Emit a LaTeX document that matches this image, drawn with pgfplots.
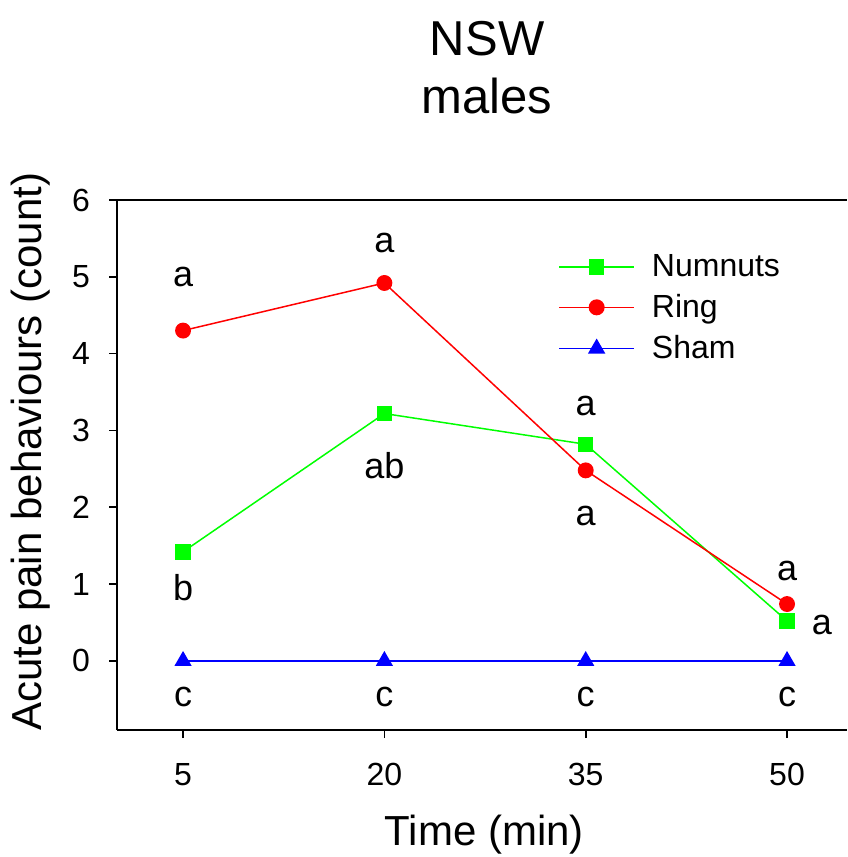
\documentclass[border=0pt]{standalone}
\usepackage{pgfplots}
\pgfplotsset{compat=1.18}
\usepackage{fontspec}
\setmainfont{Liberation Sans}
\definecolor{cg}{RGB}{0,255,0}
\definecolor{cr}{RGB}{255,0,0}
\definecolor{cb}{RGB}{0,0,255}
\begin{document}
\begin{tikzpicture}
\begin{axis}[
  scale only axis,
  width=365pt, height=265pt,
  xmin=0.08, xmax=54.47,
  ymin=-0.9, ymax=6,
  axis x line=box, axis y line=left,
  axis line style={-, line width=0.8pt},
  xtick={5,20,35,50}, ytick={0,1,2,3,4,5,6},
  xtick pos=bottom, ytick pos=left,
  tick align=outside,
  major tick length=4pt,
  tick style={black, line width=0.8pt},
  /pgf/number format/assume math mode=true,
  ticklabel style={font=\fontsize{16}{19}\selectfont},
  xticklabel style={yshift=-9pt},
  yticklabel style={xshift=-6pt},
  clip=false,
  xlabel={Time (min)},
  ylabel={Acute pain behaviours (count)},
  label style={font=\fontsize{21}{25}\selectfont},
  xlabel style={at={(axis description cs:0.503,-0.198)}, anchor=center},
  ylabel style={at={(axis description cs:-0.119,0.525)}, anchor=center, rotate=0},
  legend style={draw=none, fill=none, at={(axis description cs:0.604,0.906)}, anchor=north west,
    font=\fontsize{16}{19}\selectfont, row sep=3.5pt, column sep=6.5pt, inner sep=0pt},
  legend cell align=left,
  legend image code/.code={\draw[mark repeat=2,mark phase=2, line width=0.8pt] plot coordinates {(0pt,0pt) (18.75pt,0pt) (37.5pt,0pt)};},
]
\addplot[cg, line width=0.75pt, mark=square*, mark size=3.5pt] coordinates {(5,1.42) (20,3.22) (35,2.82) (50,0.52)};
\addlegendentry{Numnuts}
\addplot[cr, line width=0.75pt, mark=*, mark size=3.6pt] coordinates {(5,4.3) (20,4.92) (35,2.48) (50,0.74)};
\addlegendentry{Ring}
\addplot[cb, line width=0.75pt, mark=triangle*, mark size=4.2pt] coordinates {(5,0) (20,0) (35,0) (50,0)};
\addlegendentry{Sham}
\begin{scope}[every node/.style={font=\fontsize{18}{21}\selectfont, inner sep=0pt}]
\node at (axis cs:5,5.0) {a};
\node at (axis cs:20,5.44) {a};
\node at (axis cs:5,0.96) {b};
\node at (axis cs:20,2.54) {ab};
\node at (axis cs:35,3.32) {a};
\node at (axis cs:35,1.89) {a};
\node at (axis cs:50,1.17) {a};
\node at (axis cs:52.6,0.47) {a};
\node at (axis cs:5,-0.47) {c};
\node at (axis cs:20,-0.47) {c};
\node at (axis cs:35,-0.47) {c};
\node at (axis cs:50,-0.47) {c};
\end{scope}
\node[align=center, font=\fontsize{24.5}{29}\selectfont] at (axis description cs:0.507,1.249) {NSW\\males};
\coordinate (BL) at (axis description cs:-0.1603,-0.2396);
\coordinate (TR) at (axis description cs:1,1.3774);
\end{axis}
\pgfresetboundingbox
\path[use as bounding box] (BL) rectangle (TR);
\end{tikzpicture}
\end{document}
